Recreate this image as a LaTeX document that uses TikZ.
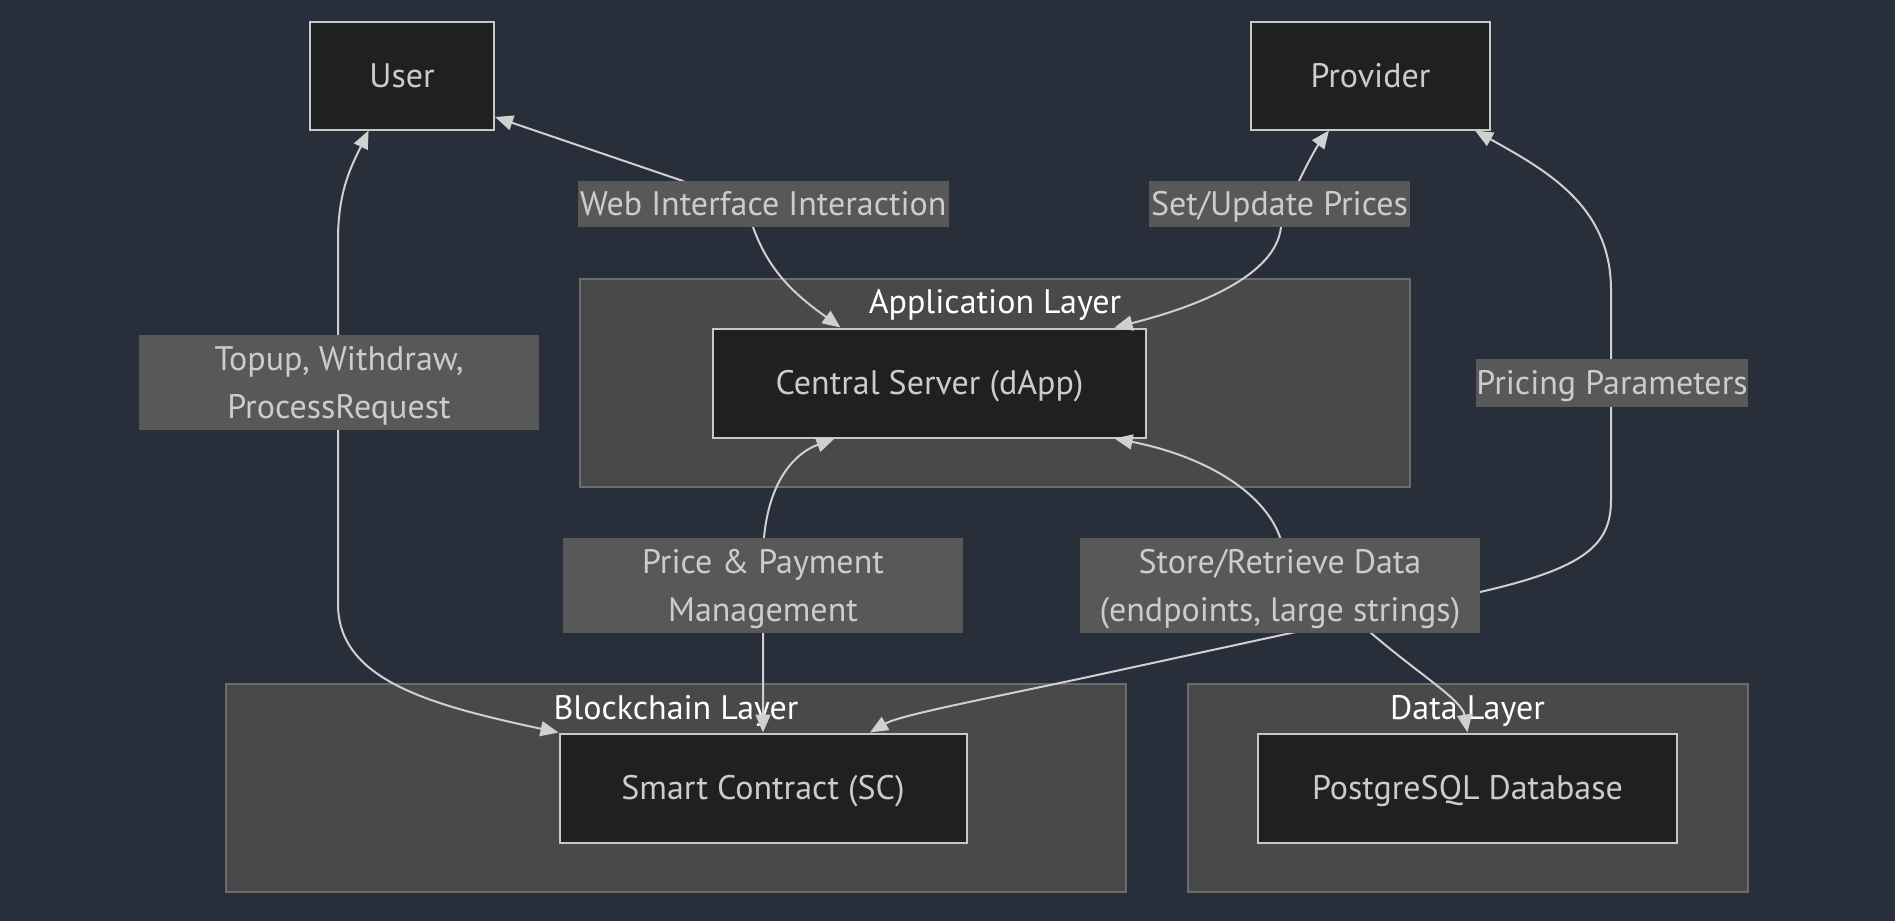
\documentclass[tikz,border=0pt]{standalone}
\usepackage{fontspec}
\setmainfont{PT Sans}
\usetikzlibrary{arrows.meta}
\definecolor{bg}{RGB}{41,46,59}
\definecolor{nodefill}{RGB}{31,32,32}
\definecolor{nodestroke}{RGB}{200,200,200}
\definecolor{clfill}{RGB}{72,73,72}
\definecolor{clstroke}{RGB}{108,108,108}
\definecolor{lblfill}{RGB}{88,88,88}
\definecolor{txt}{RGB}{204,204,204}
\definecolor{edgec}{RGB}{208,208,208}
\tikzset{
  box/.style={draw=nodestroke, fill=nodefill, line width=2pt, text=txt, inner sep=0pt, text height=23.8pt, text depth=0pt},
  cluster/.style={draw=clstroke, fill=clfill, line width=2pt, inner sep=0pt},
  lbl/.style={fill=lblfill, text=txt, inner sep=0pt, align=center, text height=23.8pt, text depth=0pt},
  lbltwo/.style={lbl, text height=71.8pt, text depth=0pt},
  ttl/.style={text=white, inner sep=0pt, text height=23.8pt, text depth=0pt},
  edge/.style={draw=edgec, line width=2pt, {Triangle[length=18pt,width=15pt]}-{Triangle[length=18pt,width=15pt]}},
}
\begin{document}
\begin{tikzpicture}[x=1pt,y=-1pt, font=\fontsize{34pt}{48pt}\selectfont]
\fill[bg] (0,0) rectangle (1895,921);
\useasboundingbox (0,0) rectangle (1895,921);
% clusters
\node[cluster, minimum width=830pt, minimum height=208pt] (appC) at (995,383) {};
\node[cluster, minimum width=900pt, minimum height=208pt] (bcC) at (676,788) {};
\node[cluster, minimum width=559.5pt, minimum height=208pt] (dlC) at (1467.75,788) {};
\node[ttl] (appT) at (995,302) {Application Layer};
\node[ttl] (bcT) at (676,708) {Blockchain Layer};
\node[ttl] (dlT) at (1467.5,708) {Data Layer};
% nodes
\node[box, minimum width=184pt, minimum height=108pt] (user) at (402,75.5) {User};
\node[box, minimum width=239pt, minimum height=108pt] (prov) at (1370.5,75.5) {Provider};
\node[box, minimum width=433pt, minimum height=109pt] (cs) at (929.5,383) {Central Server (dApp)};
\node[box, minimum width=407pt, minimum height=109pt] (sc) at (763,788) {Smart Contract (SC)};
\node[box, minimum width=419pt, minimum height=109pt] (db) at (1467.5,788) {PostgreSQL Database};
% edges
\draw[edge] ([yshift=-41.5pt]user.east) -- (683,181) .. controls (720,205) and (745,212) .. (753,227) .. controls (770,275) and (800,298) .. ([xshift=-89pt]cs.north);
\draw[edge] ([xshift=185pt]cs.north) .. controls (1200,306) and (1276,275) .. (1281,227) -- (1299,181) .. controls (1310,158) and (1318,145) .. ([xshift=-41.5pt]prov.south);
\draw[edge] ([xshift=-33.4pt]user.south) .. controls (352,165) and (338,190) .. (338,240) -- (338,604) .. controls (338,680) and (430,705) .. (sc.north west);
\draw[edge] (sc.north) -- (763,560) .. controls (763,490) and (790,455) .. ([xshift=-95pt]cs.south);
\draw[edge] ([xshift=185pt]cs.south) .. controls (1200,455) and (1265,490) .. (1281,540) -- (1371,633) .. controls (1420,675) and (1462,700) .. (db.north);
\draw[edge] ([xshift=107pt]sc.north) .. controls (900,715) and (990,698) .. (1088,677) -- (1480,592) .. controls (1585,568) and (1611,545) .. (1611,500) -- (1611,290) .. controls (1611,205) and (1545,170) .. ([xshift=-16pt]prov.south east);
% labels
\node[lbl, minimum width=371pt, minimum height=46pt] (webL) at (763.2,204) {Web Interface Interaction};
\node[lbl, minimum width=261pt, minimum height=46pt] (setL) at (1279.5,204) {Set/Update Prices};
\node[lbltwo, minimum width=400pt, minimum height=95pt] (topL) at (339,382.5) {Topup, Withdraw,\\ProcessRequest};
\node[lbl, minimum width=270pt, minimum height=48pt] (priL) at (1612,383) {Pricing Parameters};
\node[lbltwo, minimum width=400pt, minimum height=95pt] (payL) at (763,585.5) {Price \& Payment\\Management};
\node[lbltwo, minimum width=400pt, minimum height=95pt] (stoL) at (1280,585.5) {Store/Retrieve Data\\(endpoints, large strings)};
\end{tikzpicture}
\end{document}
